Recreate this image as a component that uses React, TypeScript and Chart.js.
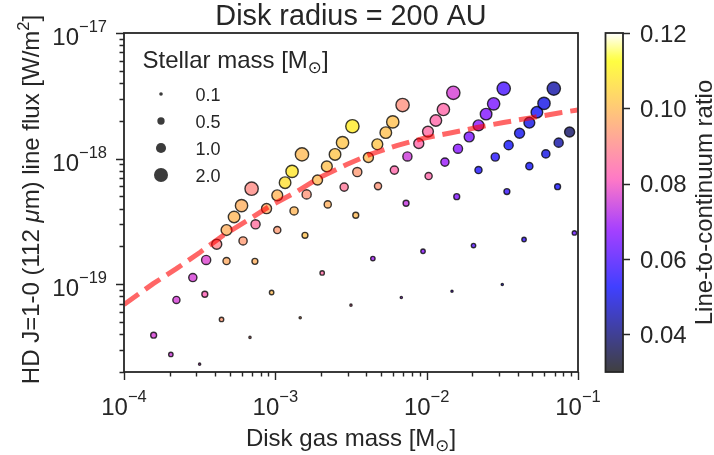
import React, { useEffect, useRef } from "react";
import { Chart, registerables } from "chart.js";

Chart.register(...registerables);

// ---- axis ranges, ticks, labels ----
const titleText = "Disk radius = 200 AU";
const xRange = [1e-4, 1e-1];
const yRange = [2e-20, 1e-17];
const xTickExponents = [-4, -3, -2, -1];
const yTickExponents = [-19, -18, -17];
const ratioRange = [0.03, 0.12];
const ratioTicks = [0.04, 0.06, 0.08, 0.1, 0.12];
const ratioTickLabels = ["0.04", "0.06", "0.08", "0.10", "0.12"];
const legendMasses = [0.1, 0.5, 1.0, 2.0];
const legendLabels = ["0.1", "0.5", "1.0", "2.0"];

// ---- model grid: one series per stellar mass [Msun] ----
const stellarMasses = [0.1, 0.3, 0.5, 0.7, 0.9, 1.1, 1.3, 1.5, 1.7, 1.9, 2.2];

const diskMassM01 = [3.16e-4, 6.8e-4, 1.46e-3, 3.16e-3, 6.8e-3, 1.47e-2, 3.16e-2];
const lineFluxM01 = [2.31e-20, 3.77e-20, 5.4e-20, 6.81e-20, 7.84e-20, 8.8e-20, 9.95e-20];
const ratioM01 = [0.075, 0.09, 0.095, 0.085, 0.07, 0.062, 0.055];

const diskMassM03 = [2.04e-4, 4.41e-4, 9.45e-4, 2.04e-3, 4.41e-3, 9.46e-3, 2.04e-2, 4.4e-2, 9.47e-2];
const lineFluxM03 = [2.76e-20, 5.24e-20, 8.59e-20, 1.23e-19, 1.6e-19, 1.83e-19, 2.03e-19, 2.27e-19, 2.56e-19];
const ratioM03 = [0.075, 0.094, 0.1, 0.085, 0.07, 0.067, 0.061, 0.057, 0.063];

const diskMassM05 = [1.57e-4, 3.42e-4, 7.33e-4, 1.57e-3, 3.4e-3, 7.31e-3, 1.58e-2, 3.39e-2, 7.33e-2];
const lineFluxM05 = [3.93e-20, 8.32e-20, 1.52e-19, 2.45e-19, 3.54e-19, 4.41e-19, 4.98e-19, 5.46e-19, 5.98e-19];
const ratioM05 = [0.076, 0.082, 0.098, 0.101, 0.1, 0.074, 0.066, 0.057, 0.053];

const diskMassM07 = [2.22e-4, 4.76e-4, 1.03e-3, 2.22e-3, 4.77e-3, 1.03e-2, 2.2e-2, 4.77e-2];
const lineFluxM07 = [7.5e-20, 1.53e-19, 2.7e-19, 4.32e-19, 6.04e-19, 7.26e-19, 8.1e-19, 8.71e-19];
const ratioM07 = [0.076, 0.097, 0.094, 0.098, 0.093, 0.084, 0.054, 0.052];

const diskMassM09 = [2.85e-4, 6.12e-4, 1.33e-3, 2.85e-3, 6.12e-3, 1.32e-2, 2.84e-2, 6.13e-2];
const lineFluxM09 = [1.13e-19, 2.21e-19, 3.83e-19, 5.93e-19, 8.1e-19, 9.38e-19, 1.03e-18, 1.09e-18];
const ratioM09 = [0.076, 0.094, 0.099, 0.087, 0.084, 0.069, 0.055, 0.05];

const diskMassM11 = [3.49e-4, 7.4e-4, 1.61e-3, 3.48e-3, 7.46e-3, 1.61e-2, 3.48e-2, 7.45e-2];
const lineFluxM11 = [1.56e-19, 3.0e-19, 5.19e-19, 7.81e-19, 1.04e-18, 1.2e-18, 1.28e-18, 1.34e-18];
const ratioM11 = [0.077, 0.086, 0.093, 0.094, 0.075, 0.067, 0.052, 0.044];

const diskMassM13 = [4.1e-4, 8.75e-4, 1.9e-3, 4.12e-3, 8.87e-3, 1.91e-2, 4.11e-2, 8.8e-2];
const lineFluxM13 = [2.08e-19, 4.0e-19, 6.75e-19, 1.02e-18, 1.32e-18, 1.49e-18, 1.59e-18, 1.63e-18];
const ratioM13 = [0.09, 0.097, 0.1, 0.1, 0.084, 0.065, 0.051, 0.038];

const diskMassM15 = [4.76e-4, 1.03e-3, 2.19e-3, 4.72e-3, 1.02e-2, 2.2e-2, 4.77e-2];
const lineFluxM15 = [2.7e-19, 5.1e-19, 8.67e-19, 1.3e-18, 1.64e-18, 1.84e-18, 1.93e-18];
const ratioM15 = [0.098, 0.099, 0.101, 0.102, 0.085, 0.067, 0.05];

const diskMassM17 = [5.34e-4, 1.16e-3, 2.48e-3, 5.37e-3, 1.15e-2, 2.47e-2, 5.35e-2];
const lineFluxM17 = [3.43e-19, 6.43e-19, 1.08e-18, 1.61e-18, 2.01e-18, 2.26e-18, 2.34e-18];
const ratioM17 = [0.099, 0.107, 0.102, 0.101, 0.084, 0.066, 0.052];

const diskMassM19 = [5.98e-4, 1.29e-3, 2.78e-3, 5.97e-3, 1.29e-2, 2.77e-2, 5.96e-2];
const lineFluxM19 = [4.22e-19, 7.91e-19, 1.34e-18, 1.96e-18, 2.46e-18, 2.73e-18, 2.75e-18];
const ratioM19 = [0.098, 0.108, 0.102, 0.101, 0.084, 0.065, 0.05];

const diskMassM22 = [6.97e-4, 1.5e-3, 3.23e-3, 6.93e-3, 1.5e-2, 3.23e-2, 6.92e-2];
const lineFluxM22 = [5.76e-19, 1.08e-18, 1.81e-18, 2.67e-18, 3.34e-18, 3.61e-18, 3.61e-18];
const ratioM22 = [0.091, 0.1, 0.109, 0.092, 0.076, 0.059, 0.044];

// ---- analytic reference curve (dashed) ----
const modelDiskMass = [1e-4, 1.56e-4, 2.22e-4, 3.17e-4, 4.64e-4, 6.46e-4, 9.2e-4, 1.35e-3, 1.97e-3, 2.96e-3, 4.23e-3, 6.34e-3, 9.5e-3, 1.43e-2, 2.15e-2, 3.22e-2, 5.08e-2, 7.64e-2, 1e-1];
const modelLineFlux = [6.9e-20, 1.01e-19, 1.33e-19, 1.79e-19, 2.5e-19, 3.19e-19, 4.19e-19, 5.36e-19, 7.09e-19, 8.99e-19, 1.08e-18, 1.27e-18, 1.45e-18, 1.6e-18, 1.77e-18, 1.94e-18, 2.13e-18, 2.32e-18, 2.44e-18];

const diskMassBySeries = [diskMassM01, diskMassM03, diskMassM05, diskMassM07, diskMassM09, diskMassM11, diskMassM13, diskMassM15, diskMassM17, diskMassM19, diskMassM22];
const lineFluxBySeries = [lineFluxM01, lineFluxM03, lineFluxM05, lineFluxM07, lineFluxM09, lineFluxM11, lineFluxM13, lineFluxM15, lineFluxM17, lineFluxM19, lineFluxM22];
const ratioBySeries = [ratioM01, ratioM03, ratioM05, ratioM07, ratioM09, ratioM11, ratioM13, ratioM15, ratioM17, ratioM19, ratioM22];

// ---- styling ----
const FONT = '"Liberation Sans", Arial, Helvetica, sans-serif';
const SYMBOL_FONT = '"DejaVu Sans", sans-serif';
const INK = "#262626";
const EDGE = "rgba(0,0,0,0.77)";
const ALPHA = 0.75;
const W = 714;
const H = 455;

const clamp01 = (v: number) => Math.max(0, Math.min(1, v));

// gnuplot2 colour map
function gnuplot2(t: number): [number, number, number] {
  t = clamp01(t);
  const r = clamp01(t / 0.32 - 0.78125);
  const g = clamp01(2 * t - 0.84);
  let b: number;
  if (t < 0.25) b = 4 * t;
  else if (t < 0.42) b = 1;
  else if (t < 0.92) b = -2 * t + 1.84;
  else b = t / 0.08 - 11.5;
  b = clamp01(b);
  return [Math.round(r * 255), Math.round(g * 255), Math.round(b * 255)];
}

function ratioColor(ratio: number): string {
  const t = (ratio - ratioRange[0]) / (ratioRange[1] - ratioRange[0]);
  const [r, g, b] = gnuplot2(t);
  return `rgba(${r},${g},${b},${ALPHA})`;
}

// marker area scales with stellar mass
function markerRadius(mstar: number): number {
  return 4.75 * Math.sqrt(mstar) - 0.4;
}

type Seg = { t: string; size: number; dy?: number; italic?: boolean; family?: string };

function segFont(s: Seg) {
  return `${s.italic ? "italic " : ""}${s.size}px ${s.family ?? FONT}`;
}

function richWidth(ctx: CanvasRenderingContext2D, segs: Seg[]) {
  let w = 0;
  for (const s of segs) {
    ctx.font = segFont(s);
    w += ctx.measureText(s.t).width;
  }
  return w;
}

function drawRich(ctx: CanvasRenderingContext2D, segs: Seg[], x: number, y: number, align: "left" | "center" | "right") {
  const w = richWidth(ctx, segs);
  let cx = align === "left" ? x : align === "center" ? x - w / 2 : x - w;
  ctx.textAlign = "left";
  ctx.textBaseline = "alphabetic";
  for (const s of segs) {
    ctx.font = segFont(s);
    ctx.fillText(s.t, cx, y + (s.dy ?? 0));
    cx += ctx.measureText(s.t).width;
  }
}

const MINUS = "\u2212";
const powerLabel = (e: number): Seg[] => [
  { t: "10", size: 24 },
  { t: (e < 0 ? MINUS : "") + String(Math.abs(e)), size: 16.5, dy: -13 },
];

const sunSegs = (size: number): Seg[] => [
  { t: "[M", size },
  { t: "\u2299", size: size * 0.7, dy: 5, family: SYMBOL_FONT },
  { t: "]", size },
];

const decorations = {
  id: "decorations",
  afterDatasetsDraw(chart: any) {
    const { ctx, chartArea: a, scales } = chart;
    const xs = scales.x;
    const ys = scales.y;
    const cx = (a.left + a.right) / 2;
    const cy = (a.top + a.bottom) / 2;
    ctx.save();

    // tick marks (outward, major + minor)
    ctx.strokeStyle = INK;
    ctx.lineWidth = 1.4;
    ctx.beginPath();
    for (let e = -5; e <= 0; e++) {
      for (let k = 1; k <= 9; k++) {
        const v = k * Math.pow(10, e);
        if (v < xRange[0] * 0.9999 || v > xRange[1] * 1.0001) continue;
        const px = Math.round(xs.getPixelForValue(v)) + 0.5;
        const len = k === 1 ? 8 : 4.5;
        ctx.moveTo(px, a.bottom);
        ctx.lineTo(px, a.bottom + len);
      }
    }
    for (let e = -21; e <= -16; e++) {
      for (let k = 1; k <= 9; k++) {
        const v = k * Math.pow(10, e);
        if (v < yRange[0] * 0.9999 || v > yRange[1] * 1.0001) continue;
        const py = Math.round(ys.getPixelForValue(v)) + 0.5;
        const len = k === 1 ? 8 : 4.5;
        ctx.moveTo(a.left, py);
        ctx.lineTo(a.left - len, py);
      }
    }
    ctx.stroke();

    // frame
    ctx.lineWidth = 1.8;
    ctx.strokeRect(a.left, a.top, a.right - a.left, a.bottom - a.top);

    // tick labels
    ctx.fillStyle = INK;
    for (const e of xTickExponents) {
      const px = xs.getPixelForValue(Math.pow(10, e));
      drawRich(ctx, powerLabel(e), px, a.bottom + 43, "center");
    }
    for (const e of yTickExponents) {
      const py = ys.getPixelForValue(Math.pow(10, e));
      drawRich(ctx, powerLabel(e), a.left - 17, py + 12, "right");
    }

    // title and axis labels
    drawRich(ctx, [{ t: titleText, size: 28.8 }], cx, 25, "center");
    drawRich(ctx, [{ t: "Disk gas mass ", size: 24 }, ...sunSegs(24)], cx, a.bottom + 74, "center");

    ctx.save();
    ctx.translate(39, cy - 3);
    ctx.rotate(-Math.PI / 2);
    drawRich(
      ctx,
      [
        { t: "HD J=1-0 (112 ", size: 24 },
        { t: "\u03bc", size: 24, italic: true },
        { t: "m) line flux [W/m", size: 24 },
        { t: "2", size: 16.5, dy: -10 },
        { t: "]", size: 24 },
      ],
      0,
      0,
      "center"
    );
    ctx.restore();

    // colour bar
    const cbLeft = a.right + 27.5;
    const cbWidth = 17.5;
    const grad = ctx.createLinearGradient(0, a.bottom, 0, a.top);
    for (let i = 0; i <= 60; i++) {
      const t = i / 60;
      const [r, g, b] = gnuplot2(t);
      grad.addColorStop(t, `rgba(${r},${g},${b},${ALPHA})`);
    }
    ctx.fillStyle = "#ffffff";
    ctx.fillRect(cbLeft, a.top, cbWidth, a.bottom - a.top);
    ctx.fillStyle = grad;
    ctx.fillRect(cbLeft, a.top, cbWidth, a.bottom - a.top);
    ctx.strokeStyle = INK;
    ctx.lineWidth = 1.8;
    ctx.strokeRect(cbLeft, a.top, cbWidth, a.bottom - a.top);

    const ratioToY = (v: number) =>
      a.bottom - ((v - ratioRange[0]) / (ratioRange[1] - ratioRange[0])) * (a.bottom - a.top);
    ctx.lineWidth = 1.4;
    ctx.beginPath();
    ratioTicks.forEach((v) => {
      const py = Math.round(ratioToY(v)) + 0.5;
      ctx.moveTo(cbLeft + cbWidth, py);
      ctx.lineTo(cbLeft + cbWidth + 7, py);
    });
    ctx.stroke();
    ctx.fillStyle = INK;
    ratioTicks.forEach((v, i) => {
      drawRich(ctx, [{ t: ratioTickLabels[i], size: 24 }], cbLeft + cbWidth + 17, ratioToY(v) + 8.5, "left");
    });

    ctx.save();
    ctx.translate(W - 2, cy);
    ctx.rotate(-Math.PI / 2);
    drawRich(ctx, [{ t: "Line-to-continuum ratio", size: 24 }], 0, 0, "center");
    ctx.restore();

    // size legend
    const legX = a.left + 18.5;
    drawRich(ctx, [{ t: "Stellar mass ", size: 24 }, ...sunSegs(24)], a.left + 18.5, a.top + 35, "left");
    const rowY = [a.top + 61, a.top + 88, a.top + 115, a.top + 142];
    legendMasses.forEach((ms, i) => {
      const mx = legX + 18.5;
      const r = markerRadius(ms) + 0.7;
      ctx.beginPath();
      ctx.arc(mx, rowY[i], r, 0, Math.PI * 2);
      ctx.fillStyle = EDGE;
      ctx.fill();
      ctx.fillStyle = INK;
      drawRich(ctx, [{ t: legendLabels[i], size: 18 }], legX + 53, rowY[i] + 6.5, "left");
    });

    ctx.restore();
  },
};

export default function App() {
  const canvasRef = useRef<HTMLCanvasElement | null>(null);

  useEffect(() => {
    const canvas = canvasRef.current;
    if (!canvas) return;

    const datasets: any[] = stellarMasses.map((ms, i) => ({
      label: `M* = ${ms}`,
      data: diskMassBySeries[i].map((m, j) => ({ x: m, y: lineFluxBySeries[i][j] })),
      pointRadius: markerRadius(ms),
      pointHoverRadius: markerRadius(ms),
      pointBackgroundColor: ratioBySeries[i].map((r) => ratioColor(r)),
      pointBorderColor: EDGE,
      pointBorderWidth: 1.4,
      showLine: false,
      order: 100 - i,
    }));

    datasets.push({
      label: "model",
      data: modelDiskMass.map((m, j) => ({ x: m, y: modelLineFlux[j] })),
      showLine: true,
      borderColor: "rgba(255,0,0,0.6)",
      borderWidth: 5,
      borderDash: [18, 8],
      pointRadius: 0,
      pointHoverRadius: 0,
      fill: false,
      tension: 0,
      order: 0,
    });

    const chart = new Chart(canvas, {
      type: "scatter",
      data: { datasets },
      options: {
        animation: false,
        responsive: false,
        devicePixelRatio: 1,
        events: [],
        layout: { padding: { left: 124, right: 136, top: 33, bottom: 83 } },
        plugins: { legend: { display: false }, tooltip: { enabled: false } },
        scales: {
          x: { type: "logarithmic", min: xRange[0], max: xRange[1], display: false },
          y: { type: "logarithmic", min: yRange[0], max: yRange[1], display: false },
        },
      },
      plugins: [decorations],
    });

    return () => chart.destroy();
  }, []);

  return (
    <div style={{ position: "fixed", left: 0, top: 0, width: W, height: H, background: "#ffffff" }}>
      <canvas ref={canvasRef} width={W} height={H} style={{ display: "block" }} />
    </div>
  );
}
